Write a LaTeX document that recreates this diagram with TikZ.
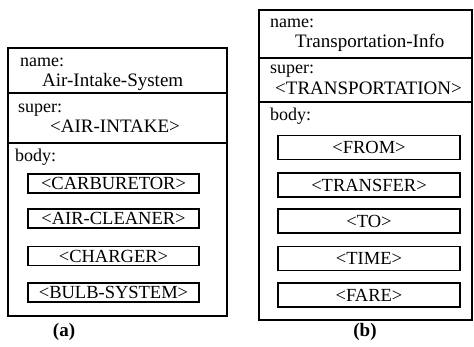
\documentclass[tikz,border=0pt]{standalone}
\usepackage{fontspec}
\setmainfont{Liberation Serif}
\usetikzlibrary{positioning}
\tikzset{
  frame/.style={line width=1.6pt},
  lbl/.style={anchor=base west, inner sep=0pt, font=\fontsize{18}{20}\selectfont},
  val/.style={anchor=base west, inner sep=0pt, font=\fontsize{19}{21}\selectfont},
  slota/.style={draw, line width=1.3pt, inner sep=0pt, minimum width=171pt, minimum height=19pt, font=\fontsize{18.5}{20}\selectfont},
  slotb/.style={draw, line width=1.3pt, inner sep=0pt, minimum width=182pt, minimum height=24pt, font=\fontsize{18.5}{20}\selectfont},
  sublabel/.style={inner sep=0pt, font=\fontsize{19}{21}\selectfont\bfseries},
}

\begin{document}
\begin{tikzpicture}[x=1pt,y=-1pt]
  \useasboundingbox (0,0) rectangle (474,347);

  % (a) air intake frame
  \draw[frame] (8,48) rectangle (227,316);
  \draw[frame] (8,93) -- (227,93);
  \draw[frame] (8,143) -- (227,143);
  \node[lbl] (nameA) at (20,67) {name:};
  \node[val] (valA) at (42,87) {Air-Intake-System};
  \node[lbl] (superA) at (18,113) {super:};
  \node[val] (supA) at (50,133) {<AIR-INTAKE>};
  \node[lbl] (bodyA) at (15,162) {body:};
  \node[slota] (carb) at (113.5,183.5) {<CARBURETOR>};
  \node[slota] (clean) at (113.5,218.5) {<AIR-CLEANER>};
  \node[slota] (charg) at (113.5,256) {<CHARGER>};
  \node[slota] (bulb) at (113.5,292.5) {<BULB-SYSTEM>};
  \node[sublabel] (capA) at (64,332) {(a)};

  % (b) transportation frame
  \draw[frame] (259,10) rectangle (472,320);
  \draw[frame] (259,58) -- (472,58);
  \draw[frame] (259,102) -- (472,102);
  \node[lbl] (nameB) at (270,28) {name:};
  \node[val] (valB) at (295,48) {Transportation-Info};
  \node[lbl] (superB) at (270,74) {super:};
  \node[val] (supB) at (275,95) {<TRANSPORTATION>};
  \node[lbl] (bodyB) at (270,121) {body:};
  \node[slotb] (from) at (369,147.5) {<FROM>};
  \node[slotb] (trans) at (369,185) {<TRANSFER>};
  \node[slotb] (to) at (369,221) {<TO>};
  \node[slotb] (time) at (369,258.5) {<TIME>};
  \node[slotb] (fare) at (369,295) {<FARE>};
  \node[sublabel] (capB) at (365,332) {(b)};
\end{tikzpicture}
\end{document}
